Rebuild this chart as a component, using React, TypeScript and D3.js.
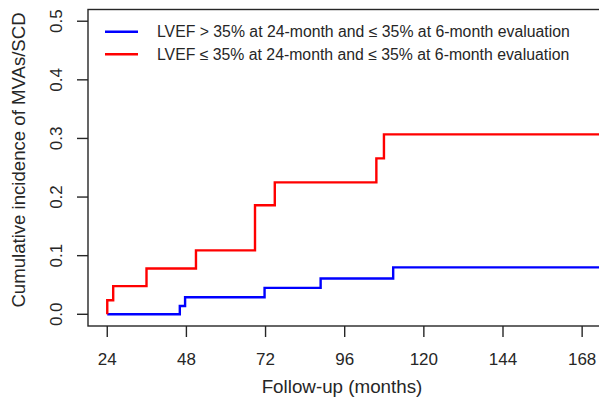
import React, { useEffect, useRef } from "react";
import * as d3 from "d3";

// Kaplan-Meier style cumulative incidence
const blueTimes = [24, 46, 47.6, 71.7, 88.7, 110.7];
const blueValues = [0, 0.014, 0.029, 0.045, 0.061, 0.08];
const redTimes = [24, 24, 25.8, 35.9, 50.9, 68.8, 74.8, 105.6, 107.9];
const redValues = [0, 0.024, 0.048, 0.078, 0.109, 0.186, 0.225, 0.266, 0.307];
const xTicks = [24, 48, 72, 96, 120, 144, 168];
const yTicks = [0, 0.1, 0.2, 0.3, 0.4, 0.5];
const legendLabels = [
  "LVEF > 35% at 24-month and \u2264 35% at 6-month evaluation",
  "LVEF \u2264 35% at 24-month and \u2264 35% at 6-month evaluation",
];
const seriesColors = ["#0000ff", "#ff0000"];
const lastTime = 176;

function App() {
  const svgRef = useRef<SVGSVGElement>(null);

  useEffect(() => {
    const width = 599,
      height = 402;
    const left = 88,
      right = 608,
      top = 9.5,
      bottom = 326;
    const ink = "#262626";
    const font = "'Liberation Sans', Arial, sans-serif";

    const svg = d3.select(svgRef.current);
    svg.selectAll("*").remove();
    svg.attr("width", width).attr("height", height);

    const x = d3.scaleLinear().domain([18.16, 175.84]).range([left, right]);
    const y = d3.scaleLinear().domain([-0.02, 0.52]).range([bottom, top]);

    // box (right side falls outside the picture)
    svg
      .append("rect")
      .attr("x", left)
      .attr("y", top)
      .attr("width", right - left)
      .attr("height", bottom - top)
      .attr("fill", "none")
      .attr("stroke", ink)
      .attr("stroke-width", 1.4);

    // x axis
    const xa = svg.append("g").attr("transform", `translate(0, ${bottom})`);
    xa.selectAll("line")
      .data(xTicks)
      .enter()
      .append("line")
      .attr("x1", (d) => x(d))
      .attr("x2", (d) => x(d))
      .attr("y1", 0)
      .attr("y2", 11)
      .attr("stroke", ink)
      .attr("stroke-width", 1.4);
    xa.selectAll("text")
      .data(xTicks)
      .enter()
      .append("text")
      .attr("x", (d) => x(d))
      .attr("y", 39)
      .attr("text-anchor", "middle")
      .attr("font-family", font)
      .attr("font-size", 17)
      .attr("fill", ink)
      .text((d) => d);

    // y axis
    const ya = svg.append("g").attr("transform", `translate(${left}, 0)`);
    ya.selectAll("line")
      .data(yTicks)
      .enter()
      .append("line")
      .attr("x1", 0)
      .attr("x2", -11)
      .attr("y1", (d) => y(d))
      .attr("y2", (d) => y(d))
      .attr("stroke", ink)
      .attr("stroke-width", 1.4);
    ya.selectAll("text")
      .data(yTicks)
      .enter()
      .append("text")
      .attr("transform", (d) => `translate(-26, ${y(d)}) rotate(-90)`)
      .attr("text-anchor", "middle")
      .attr("font-family", font)
      .attr("font-size", 17)
      .attr("fill", ink)
      .text((d) => d3.format(".1f")(d));

    svg
      .append("text")
      .attr("x", 342)
      .attr("y", 393)
      .attr("text-anchor", "middle")
      .attr("font-family", font)
      .attr("font-size", 18.8)
      .attr("fill", ink)
      .text("Follow-up (months)");

    svg
      .append("text")
      .attr("transform", `translate(25, 160) rotate(-90)`)
      .attr("text-anchor", "middle")
      .attr("font-family", font)
      .attr("font-size", 18.6)
      .attr("fill", ink)
      .text("Cumulative incidence of MVAs/SCD");

    // step curves
    const line = d3
      .line<[number, number]>()
      .x((d) => x(d[0]))
      .y((d) => y(d[1]))
      .curve(d3.curveStepAfter);

    const series = [
      { times: blueTimes, values: blueValues },
      { times: redTimes, values: redValues },
    ];
    series.forEach((s, i) => {
      const pts: [number, number][] = s.times.map((t, j) => [t, s.values[j]]);
      pts.push([lastTime, s.values[s.values.length - 1]]);
      svg
        .append("path")
        .attr("d", line(pts))
        .attr("fill", "none")
        .attr("stroke", seriesColors[i])
        .attr("stroke-width", 2.4);
    });

    // legend
    const lg = svg.append("g");
    legendLabels.forEach((label, i) => {
      const cy = 31.7 + i * 22.6;
      lg.append("line")
        .attr("x1", 105)
        .attr("x2", 138)
        .attr("y1", cy)
        .attr("y2", cy)
        .attr("stroke", seriesColors[i])
        .attr("stroke-width", 2.4);
      lg.append("text")
        .attr("x", 157)
        .attr("y", cy + 5.5)
        .attr("font-family", font)
        .attr("font-size", 15.8)
        .attr("fill", ink)
        .text(label);
    });
  }, []);

  return (
    <svg
      ref={svgRef}
      style={{ position: "absolute", left: 0, top: 0, background: "#fff" }}
    ></svg>
  );
}

export default App;
